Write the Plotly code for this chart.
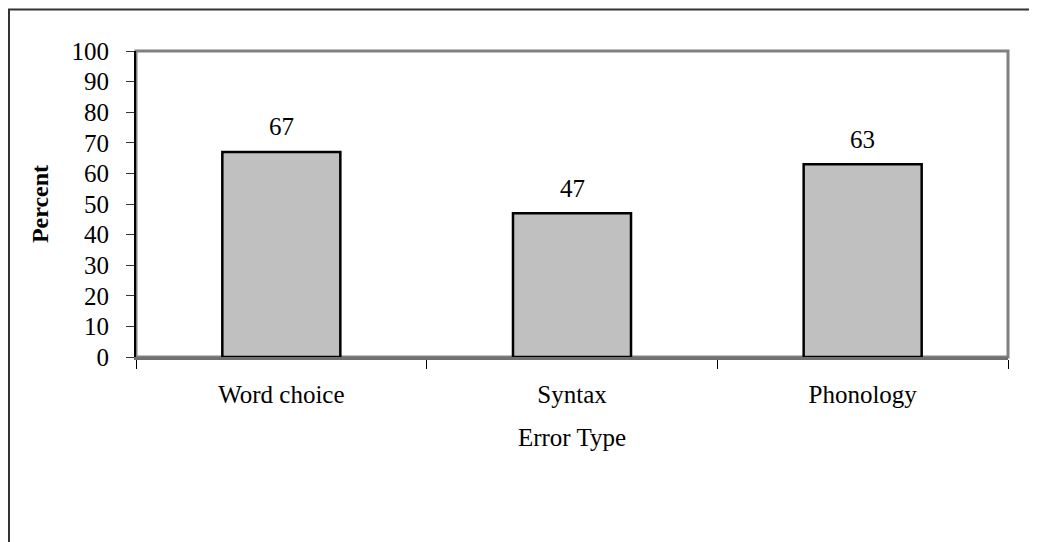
import plotly.graph_objects as go

categories = ["Word choice", "Syntax", "Phonology"]
values = [67, 47, 63]
y_ticks = list(range(0, 101, 10))

# page has an 8px body margin; work in figure coordinates (reference - 8)
OFF = 8
L, R, T, B = 136 - OFF, 1008 - OFF, 51 - OFF, 357 - OFF
W, H = 1037 - OFF, 542 - OFF
pw, ph = R - L, B - T

def px(x):
    return (x - L) / pw

def py(y):
    return (B - y) / ph

font = "Liberation Serif, Times New Roman, serif"
FS = 25

fig = go.Figure()
fig.add_trace(go.Bar(
    x=categories, y=values, width=0.406,
    marker=dict(color="#c0c0c0", line=dict(color="black", width=2.5)),
    hoverinfo="skip",
))

for c, v in zip(categories, values):
    fig.add_annotation(x=c, y=v, text=str(v), showarrow=False, yshift=25,
                       font=dict(size=FS, color="black", family=font))

# plot area border
fig.add_shape(type="rect", xref="paper", yref="paper", x0=0, y0=0, x1=1, y1=1,
              line=dict(color="#808080", width=3), layer="below")
# outer frame (partially visible)
fig.add_shape(type="path", xref="paper", yref="paper",
              path=f"M {px(1)} {py(560)} L {px(1)} {py(1.5)} L {px(1060)} {py(1.5)}",
              line=dict(color="#333333", width=2))

fig.update_layout(
    width=W, height=H,
    margin=dict(l=L, r=W - R, t=T, b=H - B),
    paper_bgcolor="white", plot_bgcolor="white",
    showlegend=False,
    font=dict(family=font, color="black", size=FS),
    xaxis=dict(
        type="category", range=[-0.5, 2.5],
        showline=True, linecolor="#707070", linewidth=3,
        ticks="outside", tickson="boundaries", ticklen=9, tickcolor="black", tickwidth=1,
        tickfont=dict(size=FS), showgrid=False, ticklabelstandoff=13,
        title=dict(text="Error Type", font=dict(size=FS), standoff=22),
    ),
    yaxis=dict(
        range=[0, 100], tickvals=y_ticks, showline=True, linecolor="black", linewidth=2,
        ticks="outside", ticklen=8, tickcolor="#333333", tickwidth=1,
        tickfont=dict(size=FS), showgrid=False, zeroline=False, ticklabelstandoff=12,
        title=dict(text="<b>Percent</b>", font=dict(size=24), standoff=16),
    ),
)

fig.write_html("out.html")
